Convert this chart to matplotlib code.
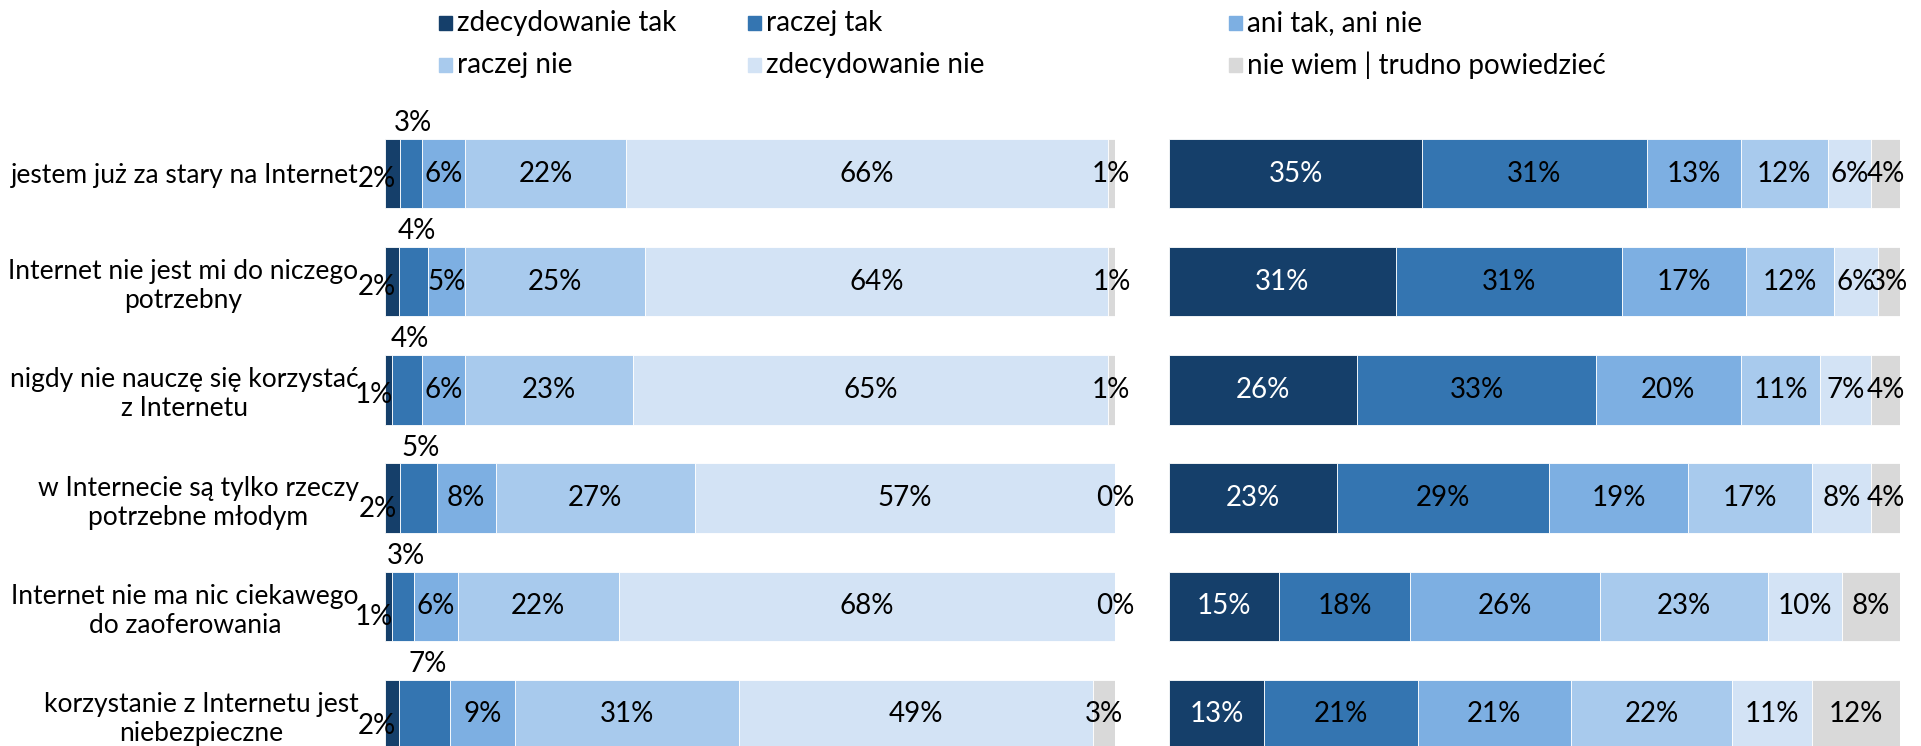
import numpy as np
import matplotlib.pyplot as plt
from matplotlib.patches import Rectangle

plt.rcParams['font.family'] = ['Lato', 'DejaVu Sans']

categories = [
    "jestem już za stary na Internet",
    "Internet nie jest mi do niczego\npotrzebny",
    "nigdy nie nauczę się korzystać\nz Internetu",
    "w Internecie są tylko rzeczy\npotrzebne młodym",
    "Internet nie ma nic ciekawego\ndo zaoferowania",
    "korzystanie z Internetu jest\nniebezpieczne",
]
series = ["zdecydowanie tak", "raczej tak", "ani tak, ani nie",
          "raczej nie", "zdecydowanie nie", "nie wiem | trudno powiedzieć"]
colors = ["#153F6A", "#3475B1", "#7DAFE2", "#A8CAED", "#D3E3F5", "#D9D9D9"]

# rows = categories, columns = series
left_vals = [
    [2, 3, 6, 22, 66, 1],
    [2, 4, 5, 25, 64, 1],
    [1, 4, 6, 23, 65, 1],
    [2, 5, 8, 27, 57, 0],
    [1, 3, 6, 22, 68, 0],
    [2, 7, 9, 31, 49, 3],
]
right_vals = [
    [35, 31, 13, 12, 6, 4],
    [31, 31, 17, 12, 6, 3],
    [26, 33, 20, 11, 7, 4],
    [23, 29, 19, 17, 8, 4],
    [15, 18, 26, 23, 10, 8],
    [13, 21, 21, 22, 11, 12],
]

W, H = 1921, 746
fig = plt.figure(figsize=(W / 100, H / 100), dpi=100)

row_px = 108.2
top_px = 173.5 - 0.5 * row_px
y_bottom = (H - 173.5) / row_px
ax_h = (H - top_px) / H

axL = fig.add_axes([385 / W, 0, 730 / W, ax_h])
axR = fig.add_axes([1169 / W, 0, 731 / W, ax_h])

FS = 20      # value labels
FS_CAT = 19  # category labels
FS_LEG = 20
y = np.arange(len(categories))


def draw(ax, vals, left_panel):
    arr = np.array(vals, dtype=float)
    norm = arr / arr.sum(axis=1, keepdims=True)
    cum = np.zeros(len(vals))
    for j in range(len(series)):
        ax.barh(y, norm[:, j], left=cum, height=0.64, color=colors[j],
                edgecolor="white", linewidth=0.6)
        for i in range(len(vals)):
            txt = f"{vals[i][j]}%"
            xc = cum[i] + norm[i, j] / 2
            if left_panel and j == 0:
                # small values sit just left of the bar
                dy = -4 if i < 3 else -8
                ax.annotate(txt, (xc, y[i]), xytext=(3, dy),
                            textcoords="offset points", ha="right",
                            va="center", fontsize=FS)
            elif left_panel and j == 1:
                ax.annotate(txt, (xc, y[i] - 0.32), xytext=(2, 2),
                            textcoords="offset points", ha="center",
                            va="bottom", fontsize=FS)
            else:
                c = "white" if (not left_panel and j == 0) else "black"
                ax.text(xc, y[i], txt, ha="center", va="center",
                        fontsize=FS, color=c)
        cum += norm[:, j]
    ax.set_xlim(0, 1)
    ax.set_ylim(y_bottom, -0.5)
    ax.set_xticks([])
    for s in ax.spines.values():
        s.set_visible(False)


draw(axL, left_vals, True)
draw(axR, right_vals, False)

axL.set_yticks(y)
axL.set_yticklabels(categories, fontsize=FS_CAT, linespacing=1.2)
for lab in axL.get_yticklabels():
    lab.set_multialignment("center")
axL.tick_params(axis="y", length=0, pad=19)
axR.set_yticks([])

# legend
leg_x = [439, 748, 1229]
leg_y = [23, 65]
for k, name in enumerate(series):
    cx = leg_x[k % 3]
    cy = leg_y[k // 3]
    fig.patches.append(Rectangle((cx / W, 1 - (cy + 7) / H), 13 / W, 14 / H,
                                 transform=fig.transFigure,
                                 color=colors[k]))
    fig.text((cx + 18) / W, 1 - cy / H, name, ha="left", va="center",
             fontsize=FS_LEG)

fig.savefig("out.png", dpi=100)
